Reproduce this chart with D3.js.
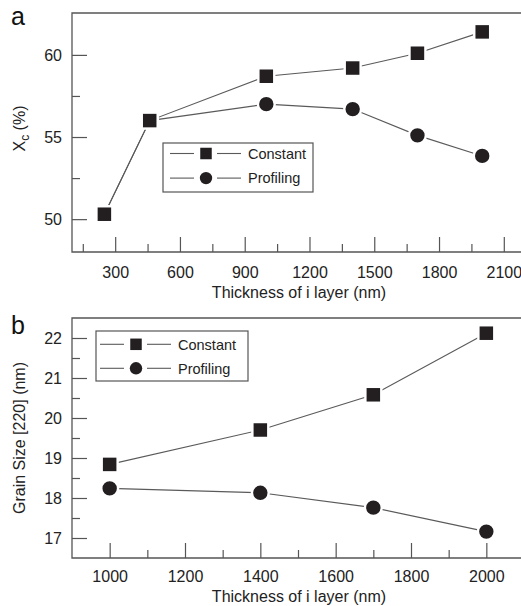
<!DOCTYPE html>
<html>
<head>
<meta charset="utf-8">
<script src="https://cdn.jsdelivr.net/npm/d3@7"></script>
<style>
  html, body { margin: 0; padding: 0; background: #fff; }
  svg { display: block; font-family: "Liberation Sans", Arial, sans-serif; }
  .line { fill: none; stroke: #5a5a5a; stroke-width: 1.1; }
  .tick text { fill: #222; font-size: 16px; }
  .tick line { stroke: #555; stroke-width: 1.2; }
</style>
</head>
<body>
<svg id="chart"></svg>
<script>
// panel a data
const topThickness = [250, 460, 1000, 1400, 1700, 2000];
const topConstant = [50.3, 56.0, 58.7, 59.2, 60.1, 61.4];
const topProfiling = [50.3, 56.0, 57.0, 56.7, 55.1, 53.85];

// panel b data
const botThickness = [1000, 1400, 1700, 2000];
const botConstant = [18.84, 19.7, 20.58, 22.12];
const botProfiling = [18.24, 18.13, 17.76, 17.16];

// ticks
const topXMajor = [300, 600, 900, 1200, 1500, 1800, 2100];
const topXMinor = [150, 450, 750, 1050, 1350, 1650, 1950];
const topYMajor = [50, 55, 60];
const topYMinor = [52.5, 57.5];
const botXMajor = [1000, 1200, 1400, 1600, 1800, 2000];
const botXMinor = [1100, 1300, 1500, 1700, 1900];
const botYMajor = [17, 18, 19, 20, 21, 22];
const botYMinor = [17.5, 18.5, 19.5, 20.5, 21.5];

const seriesNames = ["Constant", "Profiling"];

const width = 521;
const height = 606;
const textColor = "#222";
const axisColor = "#555";
const markColor = "#231f20";
const fmt = d3.format("d");

const svg = d3.select("#chart")
  .attr("width", width)
  .attr("height", height)
  .attr("viewBox", [0, 0, width, height]);

function sq(g, cx, cy, s, extra) {
  g.append("rect")
    .attr("x", cx - s / 2 - extra).attr("y", cy - s / 2 - extra)
    .attr("width", s + 2 * extra).attr("height", s + 2 * extra)
    .attr("fill", markColor)
    .attr("stroke", "#fff").attr("stroke-width", extra * 2);
}
function circ(g, cx, cy, r, extra) {
  g.append("circle")
    .attr("cx", cx).attr("cy", cy).attr("r", r + extra)
    .attr("fill", markColor)
    .attr("stroke", "#fff").attr("stroke-width", extra * 2);
}

function panel(cfg) {
  const x = d3.scaleLinear(cfg.xDomain, cfg.xRange);
  const y = d3.scaleLinear(cfg.yDomain, [cfg.bottom, cfg.top]);
  const g = svg.append("g");

  // frame (right side runs off the page)
  g.append("path")
    .attr("d", `M${cfg.xRange[1] + 5},${cfg.top}H${cfg.xRange[0]}V${cfg.bottom}H${cfg.xRange[1] + 5}`)
    .attr("fill", "none").attr("stroke", axisColor).attr("stroke-width", 1.3);

  // x axis: major + minor
  g.append("g")
    .attr("transform", `translate(0,${cfg.bottom})`)
    .call(d3.axisBottom(x).tickValues(cfg.xMajor).tickFormat(fmt)
      .tickSizeInner(-15).tickSizeOuter(0).tickPadding(cfg.xPad))
    .call(a => a.select(".domain").remove());
  g.append("g")
    .attr("transform", `translate(0,${cfg.bottom})`)
    .call(d3.axisBottom(x).tickValues(cfg.xMinor).tickSizeInner(-8).tickSizeOuter(0).tickFormat(""))
    .call(a => a.select(".domain").remove());

  // y axis: major + minor
  g.append("g")
    .attr("transform", `translate(${cfg.xRange[0]},0)`)
    .call(d3.axisLeft(y).tickValues(cfg.yMajor).tickFormat(fmt)
      .tickSizeInner(-15).tickSizeOuter(0).tickPadding(10))
    .call(a => a.select(".domain").remove());
  g.append("g")
    .attr("transform", `translate(${cfg.xRange[0]},0)`)
    .call(d3.axisLeft(y).tickValues(cfg.yMinor).tickSizeInner(-8).tickSizeOuter(0).tickFormat(""))
    .call(a => a.select(".domain").remove());

  g.selectAll(".tick text").attr("fill", textColor).style("font-size", "16px");
  g.selectAll(".tick line").attr("stroke", axisColor);

  // lines
  const line = d3.line().x(d => x(d[0])).y(d => y(d[1]));
  const cons = cfg.xs.map((v, i) => [v, cfg.constant[i]]);
  const prof = cfg.xs.map((v, i) => [v, cfg.profiling[i]]);
  g.append("path").datum(prof).attr("class", "line").attr("d", line);
  g.append("path").datum(cons).attr("class", "line").attr("d", line);

  // markers
  prof.forEach(d => circ(g, x(d[0]), y(d[1]), 7.2, 1.2));
  cons.forEach(d => sq(g, x(d[0]), y(d[1]), 13.5, 1.2));

  // legend
  const L = cfg.legend;
  g.append("rect")
    .attr("x", L.x).attr("y", L.y).attr("width", L.w).attr("height", L.h)
    .attr("fill", "#fff").attr("stroke", axisColor).attr("stroke-width", 1.2);
  seriesNames.forEach((name, i) => {
    const ry = L.y + L.row0 + i * L.rowGap;
    const mx = L.x + L.mx;
    g.append("line").attr("x1", mx - 36).attr("x2", mx - 12).attr("y1", ry).attr("y2", ry)
      .attr("stroke", "#5a5a5a").attr("stroke-width", 1.1);
    g.append("line").attr("x1", mx + 11).attr("x2", mx + 35).attr("y1", ry).attr("y2", ry)
      .attr("stroke", "#5a5a5a").attr("stroke-width", 1.1);
    if (i === 0) sq(g, mx, ry, 11.5, 0); else circ(g, mx, ry, 6.2, 0);
    g.append("text").attr("x", mx + 42).attr("y", ry + 5.3)
      .attr("fill", textColor).style("font-size", "14.5px").text(name);
  });

  // axis titles
  g.append("text")
    .attr("x", 299).attr("y", cfg.xTitleY)
    .attr("text-anchor", "middle").attr("fill", textColor).style("font-size", "16px")
    .text("Thickness of i layer (nm)");

  const yt = g.append("text")
    .attr("transform", `translate(${cfg.yTitleX},${(cfg.top + cfg.bottom) / 2 - cfg.yTitleShift}) rotate(-90)`)
    .attr("text-anchor", "middle").attr("fill", textColor).style("font-size", "16px");
  cfg.yTitle(yt);

  // panel letter
  g.append("text").attr("x", 11).attr("y", cfg.letterY)
    .attr("fill", "#111").style("font-size", "25px").text(cfg.letter);
}

panel({
  xDomain: [100, 2200], xRange: [72, 72 + 2100 * 0.2159],
  yDomain: [48, 62.55], top: 13, bottom: 252,
  xMajor: topXMajor, xMinor: topXMinor, yMajor: topYMajor, yMinor: topYMinor,
  xPad: 14.5,
  xs: topThickness, constant: topConstant, profiling: topProfiling,
  legend: { x: 163, y: 143, w: 150, h: 49, row0: 10.5, rowGap: 24.6, mx: 43 },
  xTitleY: 298,
  yTitleX: 25, yTitleShift: 4,
  yTitle: t => {
    t.append("tspan").text("X");
    t.append("tspan").attr("dy", 4).style("font-size", "12px").text("c");
    t.append("tspan").attr("dy", -4).text(" (%)");
  },
  letter: "a", letterY: 25
});

panel({
  xDomain: [900, 2100], xRange: [72, 524],
  yDomain: [16.5, 22.5], top: 318, bottom: 558,
  xMajor: botXMajor, xMinor: botXMinor, yMajor: botYMajor, yMinor: botYMinor,
  xPad: 12.5,
  xs: botThickness, constant: botConstant, profiling: botProfiling,
  legend: { x: 96, y: 331, w: 152, h: 50, row0: 13.3, rowGap: 24, mx: 40 },
  xTitleY: 601.5,
  yTitleX: 25, yTitleShift: 0,
  yTitle: t => t.text("Grain Size [220] (nm)"),
  letter: "b", letterY: 334
});
</script>
</body>
</html>
